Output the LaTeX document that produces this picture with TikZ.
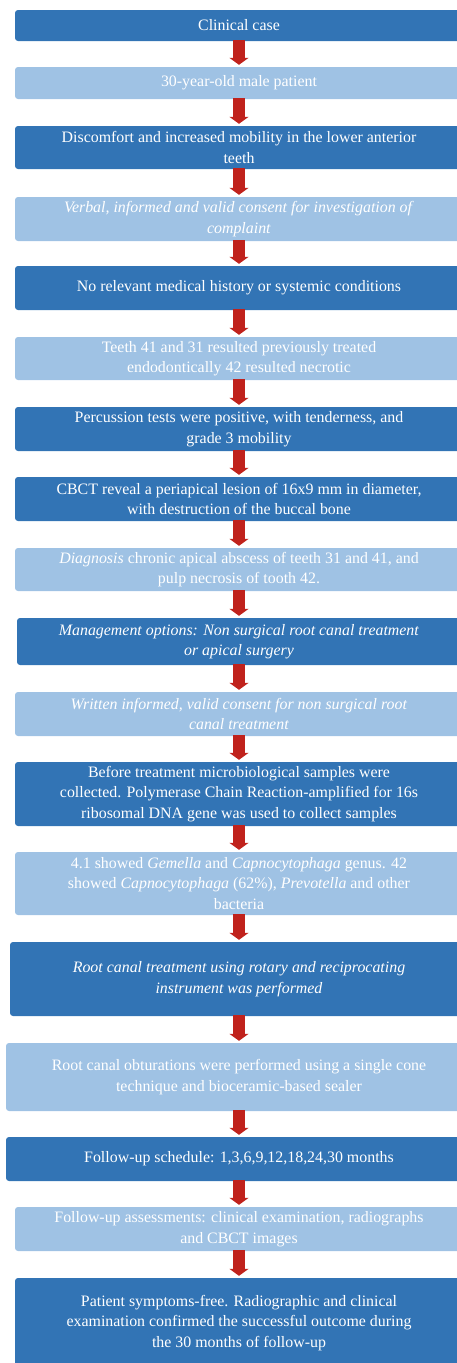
\documentclass[tikz,border=0pt]{standalone}
\usepackage{fontspec}
\setmainfont{Liberation Serif}
\usetikzlibrary{arrows.meta}
\definecolor{dkblue}{RGB}{50,116,181}
\definecolor{ltblue}{RGB}{159,194,228}
\definecolor{arrred}{RGB}{192,34,28}
\tikzset{
  boxbase/.style={rounded corners=3pt, text=white, align=center, inner sep=0pt,
    font=\fontsize{15.9pt}{20.5pt}\selectfont},
  dkbox/.style={boxbase, fill=dkblue},
  ltbox/.style={boxbase, fill=ltblue},
  flowarrow/.style={draw=arrred, line width=12pt, -{Triangle[width=19pt,length=7pt]}}
}
% #1 name, #2 style, #3 left, #4 top, #5 bottom, #6 text
\newcommand{\flowbox}[6]{%
  \node[#2, minimum width={478pt-2*#3 pt}, minimum height={(#5-#4)*1pt}]
    (#1) at (239,{(#4+#5)/2}) {#6};}
\begin{document}
\begin{tikzpicture}[x=1pt,y=-1pt]
\useasboundingbox (0,0) rectangle (457,1363);
\clip (0,0) rectangle (457,1363);
\flowbox{b1}{dkbox}{15}{10}{41}{Clinical case}
\flowbox{b2}{ltbox}{15}{67}{99}{30-year-old male patient}
\flowbox{b3}{dkbox}{15}{126}{169}{Discomfort and increased mobility in the lower anterior\\teeth}
\flowbox{b4}{ltbox}{15}{197}{241}{\textit{Verbal, informed and valid consent for investigation of}\\\textit{complaint}}
\flowbox{b5}{dkbox}{15}{266}{310}{No relevant medical history or systemic conditions}
\flowbox{b6}{ltbox}{15}{337}{380}{Teeth 41 and 31 resulted previously treated\\endodontically 42 resulted necrotic}
\flowbox{b7}{dkbox}{15}{407}{451}{Percussion tests were positive, with tenderness, and\\grade 3 mobility}
\flowbox{b8}{dkbox}{15}{477}{521}{CBCT reveal a periapical lesion of 16x9 mm in diameter,\\with destruction of the buccal bone}
\flowbox{b9}{ltbox}{15}{548}{591}{\textit{Diagnosis} chronic apical abscess of teeth 31 and 41, and\\pulp necrosis of tooth 42.}
\flowbox{b10}{dkbox}{17}{618}{665}{\textit{Management options: Non surgical root canal treatment}\\\textit{or apical surgery}}
\flowbox{b11}{ltbox}{15}{692}{736}{\textit{Written informed, valid consent for non surgical root}\\\textit{canal treatment}}
\flowbox{b12}{dkbox}{15}{762}{826}{Before treatment microbiological samples were\\collected. Polymerase Chain Reaction-amplified for 16s\\ribosomal DNA gene was used to collect samples}
\flowbox{b13}{ltbox}{15}{852}{915}{4.1 showed \textit{Gemella} and \textit{Capnocytophaga} genus. 42\\showed \textit{Capnocytophaga} (62\%), \textit{Prevotella} and other\\bacteria}
\flowbox{b14}{dkbox}{10}{942}{1016}{\textit{Root canal treatment using rotary and reciprocating}\\\textit{instrument was performed}}
\flowbox{b15}{ltbox}{6}{1043}{1111}{Root canal obturations were performed using a single cone\\technique and bioceramic-based sealer}
\flowbox{b16}{dkbox}{6}{1137}{1181}{Follow-up schedule: 1,3,6,9,12,18,24,30 months}
\flowbox{b17}{ltbox}{15}{1207}{1251}{Follow-up assessments: clinical examination, radiographs\\and CBCT images}
\flowbox{b18}{dkbox}{15}{1278}{1368}{Patient symptoms-free. Radiographic and clinical\\examination confirmed the successful outcome during\\the 30 months of follow-up}
\foreach \a/\b in {b1/b2,b2/b3,b3/b4,b4/b5,b5/b6,b6/b7,b7/b8,b8/b9,b9/b10,b10/b11,b11/b12,b12/b13,b13/b14,b14/b15,b15/b16,b16/b17,b17/b18}
  \draw[flowarrow] ([yshift=1pt]\a.south) -- ([yshift=2pt]\b.north);
\end{tikzpicture}
\end{document}
